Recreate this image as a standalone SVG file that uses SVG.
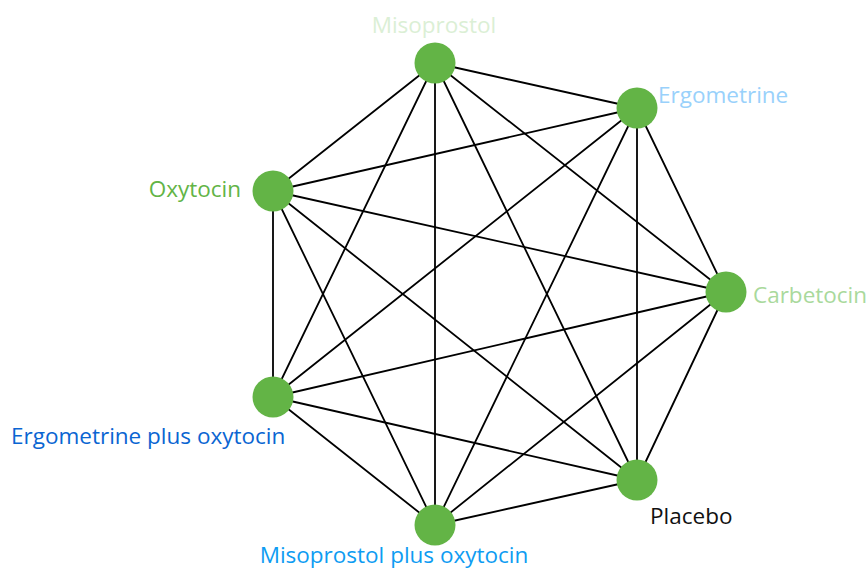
<svg xmlns="http://www.w3.org/2000/svg" width="868" height="570" viewBox="0 0 868 570">
<style>
.e{stroke:#000;stroke-width:1.8;fill:none}
.n{fill:#63b446}
text{font-family:"Open Sans","Noto Sans",sans-serif;font-size:22.5px}
</style>
<rect width="868" height="570" fill="#fff"/>
<g id="connectors" class="e">
<path d="M435,63L637,108M435,63L273,191M435,63L726,292M435,63L273,397M435,63L637,480M435,63L435,525"/>
<path d="M637,108L273,191M637,108L726,292M637,108L273,397M637,108L637,480M637,108L435,525"/>
<path d="M273,191L726,292M273,191L273,397M273,191L637,480M273,191L435,525"/>
<path d="M726,292L273,397M726,292L637,480M726,292L435,525"/>
<path d="M273,397L637,480M273,397L435,525"/>
<path d="M637,480L435,525"/>
</g>
<g id="misoprostol"><circle class="n" cx="435" cy="63" r="20.5"/><text x="434" y="33" text-anchor="middle" fill="#dbefd5">Misoprostol</text></g>
<g id="ergometrine"><circle class="n" cx="637" cy="108" r="20.5"/><text x="658" y="103" fill="#99d1fb">Ergometrine</text></g>
<g id="oxytocin"><circle class="n" cx="273" cy="191" r="20.5"/><text x="241" y="197" text-anchor="end" fill="#62b446">Oxytocin</text></g>
<g id="carbetocin"><circle class="n" cx="726" cy="292" r="20.5"/><text x="753" y="303" fill="#a9d99c">Carbetocin</text></g>
<g id="ergometrine-plus-oxytocin"><circle class="n" cx="273" cy="397" r="20.5"/><text x="11" y="444" fill="#0a65d2">Ergometrine plus oxytocin</text></g>
<g id="placebo"><circle class="n" cx="637" cy="480" r="20.5"/><text x="650" y="524" fill="#111">Placebo</text></g>
<g id="misoprostol-plus-oxytocin"><circle class="n" cx="435" cy="525" r="20.5"/><text x="394" y="563" text-anchor="middle" fill="#0e9cf2">Misoprostol plus oxytocin</text></g>
</svg>
